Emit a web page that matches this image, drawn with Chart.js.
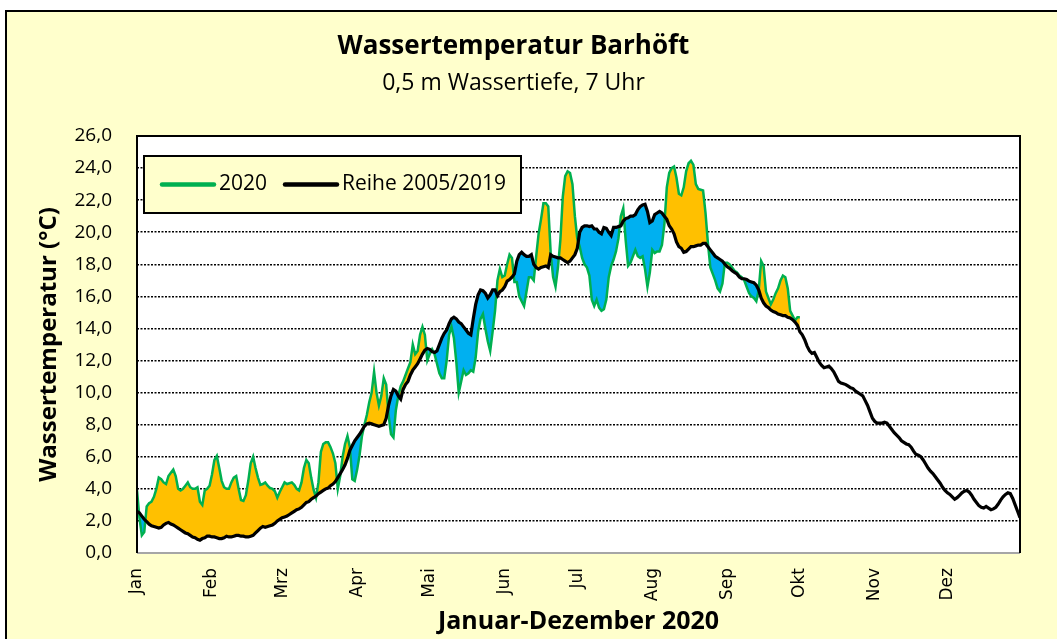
<!DOCTYPE html>
<html>
<head>
<meta charset="utf-8">
<title>Wassertemperatur Barhöft</title>
<script src="https://cdn.jsdelivr.net/npm/chart.js@4.4.0/dist/chart.umd.min.js"></script>
<style>
  html, body { margin: 0; padding: 0; background: #fff; overflow: hidden; }
  #frame { position: absolute; left: 5px; top: 10px; width: 1060px; height: 640px; background: #FFFFCC; border: 2px solid #000; }
  #wrap { position: absolute; left: 0; top: 0; width: 1050px; height: 627px; }
</style>
</head>
<body>
<div id="frame"><div id="wrap"><canvas id="myChart"></canvas></div></div>
<script>
// month ticks (day of year where each month starts)
const monthStarts = [0, 31, 60, 91, 121, 152, 182, 213, 244, 274, 305, 335];
const monthNames = ['Jan', 'Feb', 'Mrz', 'Apr', 'Mai', 'Jun', 'Jul', 'Aug', 'Sep', 'Okt', 'Nov', 'Dez'];

// 2020 daily values (7 Uhr), 1 Jan .. 1 Okt
const temp2020 = [
  3.9, 2.2, 1.1, 1.3, 2.9, 3.1, 3.2, 3.5, 4.0, 4.7,
  4.6, 4.4, 4.3, 4.8, 5.0, 5.2, 4.8, 4.0, 3.9, 4.0,
  4.2, 4.4, 4.1, 4.0, 4.0, 4.1, 3.2, 3.0, 3.9, 4.0,
  4.2, 4.9, 5.8, 6.05, 5.3, 4.5, 4.1, 4.0, 4.0, 4.4,
  4.7, 4.8, 4.0, 3.3, 3.25, 3.6, 4.5, 5.6, 6.0, 5.3,
  4.7, 4.25, 4.3, 4.4, 4.2, 4.05, 4.0, 3.85, 3.45, 3.8,
  4.1, 4.4, 4.3, 4.35, 4.4, 4.25, 4.0, 3.9, 4.4, 5.3,
  5.8, 5.6, 4.7, 3.95, 3.45, 4.4, 6.3, 6.8, 6.9, 6.9,
  6.6, 6.2, 5.6, 4.0, 4.8, 6.0, 6.8, 7.3, 6.6, 4.6,
  4.5, 5.2, 6.1, 7.3, 8.0, 8.6, 9.4, 10.0, 11.3, 10.0,
  9.2, 9.8, 10.9, 10.5, 8.6, 7.4, 7.2, 8.9, 9.8, 10.4,
  10.7, 11.1, 11.5, 11.9, 13.0, 12.4, 12.6, 13.6, 14.1, 13.6,
  12.0, 12.4, 12.7, 12.4, 11.8, 11.2, 10.9, 10.9, 12.0, 13.6,
  14.1, 13.4, 11.9, 10.0, 10.7, 11.4, 11.1, 11.2, 11.4, 11.3,
  12.2, 13.8, 14.6, 14.9, 14.0, 13.2, 12.6, 13.8, 15.1, 17.0,
  17.7, 17.2, 17.3, 18.0, 18.6, 18.4, 16.9, 16.9, 16.0, 15.7,
  15.4, 16.3, 17.2, 17.2, 17.0, 18.5, 19.9, 20.8, 21.8, 21.8,
  21.6, 18.7, 17.2, 16.6, 17.8, 19.5, 22.2, 23.5, 23.8, 23.7,
  23.0, 21.0, 19.6, 19.1, 18.4, 18.0, 17.8, 17.3, 15.8, 15.4,
  15.8, 15.3, 15.1, 15.2, 15.8, 17.2, 17.9, 18.3, 18.8, 19.6,
  21.0, 21.5, 19.5, 17.9, 18.1, 18.5, 18.9, 18.5, 18.4, 18.5,
  17.7, 16.6, 17.5, 18.9, 18.7, 18.8, 18.8, 19.2, 20.5, 22.8,
  23.7, 24.0, 24.1, 23.4, 22.4, 22.3, 22.8, 23.8, 24.3, 24.45,
  24.2, 23.0, 22.7, 22.65, 22.6, 21.2, 19.3, 17.8, 17.4, 17.0,
  16.5, 16.3, 16.8, 18.1, 18.1, 18.0, 17.8, 17.6, 17.5, 17.3,
  17.2, 17.0, 16.6, 16.2, 16.0, 15.9, 15.7, 16.4, 18.2, 17.9,
  16.3, 15.9, 15.5, 15.8, 16.2, 16.5, 17.0, 17.3, 17.2, 16.5,
  15.1, 14.8, 14.5, 14.7, 14.7
];

// long-term series 2005/2019, daily
const tempRef = [
  2.6, 2.5, 2.3, 2.1, 1.95, 1.8, 1.7, 1.65, 1.6, 1.55,
  1.6, 1.75, 1.85, 1.9, 1.8, 1.75, 1.65, 1.55, 1.45, 1.35,
  1.25, 1.2, 1.1, 1.0, 0.95, 0.85, 0.8, 0.9, 0.95, 1.05,
  1.05, 1.0, 1.0, 0.95, 0.9, 0.9, 0.95, 1.05, 1.0, 1.0,
  1.05, 1.1, 1.1, 1.05, 1.05, 1.0, 1.0, 1.05, 1.1, 1.25,
  1.4, 1.55, 1.65, 1.6, 1.65, 1.7, 1.75, 1.85, 2.0, 2.1,
  2.2, 2.25, 2.3, 2.4, 2.5, 2.6, 2.7, 2.75, 2.85, 3.0,
  3.15, 3.2, 3.35, 3.45, 3.55, 3.7, 3.8, 3.9, 4.0, 4.05,
  4.2, 4.3, 4.45, 4.7, 4.95, 5.2, 5.5, 5.9, 6.4, 6.7,
  7.0, 7.2, 7.4, 7.65, 7.9, 8.05, 8.1, 8.05, 8.0, 7.95,
  7.9, 7.95, 8.0, 8.4, 9.2, 9.8, 10.2, 10.1, 9.8, 9.6,
  10.2, 10.5, 10.7, 11.1, 11.4, 11.6, 11.8, 12.1, 12.4, 12.65,
  12.75, 12.7, 12.55, 12.5, 12.6, 13.0, 13.4, 13.7, 13.9, 14.3,
  14.6, 14.7, 14.6, 14.4, 14.3, 14.1, 13.9, 13.7, 13.6, 14.6,
  15.5, 16.1, 16.4, 16.35, 16.2, 15.9, 16.1, 16.4, 16.4, 16.05,
  16.3, 16.4, 16.6, 16.95, 17.05, 17.2, 17.4, 18.2, 18.6, 18.75,
  18.6, 18.5, 18.5, 18.6, 18.0, 17.8, 17.7, 17.8, 17.85, 17.9,
  17.8, 18.6, 18.5, 18.45, 18.4, 18.4, 18.3, 18.2, 18.1, 18.2,
  18.4, 18.6, 19.0, 20.0, 20.3, 20.4, 20.4, 20.35, 20.4, 20.2,
  20.2, 20.0, 19.9, 20.3, 20.25, 20.0, 19.8, 20.3, 20.3, 20.35,
  20.4, 20.7, 20.85, 20.9, 21.0, 21.0, 21.1, 21.4, 21.6, 21.7,
  21.75, 21.3, 20.6, 20.7, 21.1, 21.2, 21.3, 21.2, 21.0, 20.8,
  20.4, 20.2, 19.9, 19.4, 19.1, 19.0, 18.75, 18.8, 18.95, 19.1,
  19.1, 19.15, 19.2, 19.2, 19.3, 19.3, 19.1, 18.9, 18.7, 18.5,
  18.4, 18.3, 18.2, 18.0, 17.85, 17.75, 17.6, 17.5, 17.4, 17.2,
  17.1, 17.1, 17.05, 16.95, 16.9, 16.85, 16.7, 16.4, 15.9, 15.6,
  15.4, 15.3, 15.15, 15.05, 15.0, 14.9, 14.85, 14.8, 14.8, 14.7,
  14.65, 14.55, 14.4, 14.2, 13.8, 13.6, 13.3, 12.9, 12.6, 12.45,
  12.5, 12.2, 11.9, 11.7, 11.55, 11.6, 11.65, 11.5, 11.3, 11.0,
  10.7, 10.6, 10.55, 10.5, 10.4, 10.3, 10.25, 10.1, 10.0, 9.9,
  9.8, 9.5, 9.2, 8.8, 8.4, 8.2, 8.1, 8.1, 8.1, 8.15,
  8.1, 7.9, 7.7, 7.5, 7.35, 7.2, 7.0, 6.9, 6.8, 6.75,
  6.6, 6.35, 6.15, 6.1, 6.0, 5.8, 5.55, 5.3, 5.1, 4.95,
  4.75, 4.55, 4.35, 4.1, 3.9, 3.75, 3.65, 3.5, 3.35, 3.45,
  3.6, 3.75, 3.85, 3.9, 3.8, 3.6, 3.35, 3.15, 2.95, 2.85,
  2.8, 2.9, 2.8, 2.7, 2.75, 2.85, 3.05, 3.3, 3.5, 3.65,
  3.75, 3.7, 3.4, 3.0, 2.6, 2.2
];

// y axis ticks
const yTicks = [0, 2, 4, 6, 8, 10, 12, 14, 16, 18, 20, 22, 24, 26];

const fontMain = "'Open Sans', sans-serif";

// white plot area
const plotBackground = {
  id: 'plotBackground',
  beforeDraw(chart) {
    const { ctx, chartArea: a } = chart;
    ctx.save();
    ctx.fillStyle = '#fff';
    ctx.fillRect(a.left, a.top, a.right - a.left, a.bottom - a.top);
    ctx.restore();
  }
};

// frame around the plot area + legend box inside it
const plotFrameAndLegend = {
  id: 'plotFrameAndLegend',
  afterDraw(chart) {
    const { ctx, chartArea: a } = chart;
    ctx.save();
    ctx.lineWidth = 2;
    ctx.strokeStyle = '#A6A6A6';
    ctx.beginPath();
    ctx.moveTo(a.left, a.bottom);
    ctx.lineTo(a.right, a.bottom);
    ctx.stroke();
    ctx.strokeStyle = '#000';
    ctx.beginPath();
    ctx.moveTo(a.left, a.bottom);
    ctx.lineTo(a.left, a.top);
    ctx.lineTo(a.right, a.top);
    ctx.lineTo(a.right, a.bottom);
    ctx.stroke();

    // legend
    const x = a.left + 7, y = a.top + 20, w = 377, h = 57;
    ctx.fillStyle = '#FFFFCC';
    ctx.fillRect(x, y, w, h);
    ctx.lineWidth = 2;
    ctx.strokeStyle = '#000';
    ctx.strokeRect(x, y, w, h);

    const items = [
      { label: '2020', color: '#00B050', x0: x + 18 },
      { label: 'Reihe 2005/2019', color: '#000', x0: x + 141 }
    ];
    const cy = y + h / 2;
    ctx.font = '21px ' + fontMain;
    ctx.textBaseline = 'middle';
    ctx.textAlign = 'left';
    items.forEach(item => {
      ctx.strokeStyle = item.color;
      ctx.lineWidth = 4.5;
      ctx.lineCap = 'round';
      ctx.beginPath();
      ctx.moveTo(item.x0, cy);
      ctx.lineTo(item.x0 + 52, cy);
      ctx.stroke();
      ctx.fillStyle = '#000';
      ctx.fillText(item.label, item.x0 + 57, cy);
    });
    ctx.restore();
  }
};

const myChart = document.getElementById('myChart');

let lineChart = new Chart(myChart, {
  type: 'line',
  data: {
    datasets: [
      {
        label: '2020',
        data: temp2020.map((v, i) => ({ x: i, y: v })),
        borderColor: '#00B050',
        borderWidth: 2.5,
        pointRadius: 0,
        tension: 0,
        order: 2,
        fill: { target: 1, above: '#FFC000', below: '#00B0F0' }
      },
      {
        label: 'Reihe 2005/2019',
        data: tempRef.map((v, i) => ({ x: i, y: v })),
        borderColor: '#000',
        borderWidth: 3.2,
        pointRadius: 0,
        tension: 0,
        order: 1,
        fill: false
      }
    ]
  },
  options: {
    responsive: true,
    maintainAspectRatio: false,
    devicePixelRatio: 1,
    animation: false,
    events: [],
    layout: { padding: { left: 0, right: 37, top: 0, bottom: 0 } },
    plugins: {
      legend: { display: false },
      tooltip: { enabled: false },
      filler: { drawTime: 'beforeDatasetsDraw' },
      title: {
        display: true,
        text: 'Wassertemperatur Barhöft',
        color: '#000',
        font: { family: fontMain, size: 26, weight: 'bold', lineHeight: 1.2 },
        padding: { top: 19.4, bottom: 0 }
      },
      subtitle: {
        display: true,
        text: '0,5 m Wassertiefe, 7 Uhr',
        color: '#000',
        font: { family: fontMain, size: 23, lineHeight: 1.2 },
        padding: { top: 6.6, bottom: 39.2 }
      }
    },
    scales: {
      x: {
        type: 'linear',
        min: 0,
        max: 365,
        afterBuildTicks: scale => {
          scale.ticks = monthStarts.map(v => ({ value: v }));
        },
        afterFit: scale => { scale.height = 86; },
        grid: { display: false, drawTicks: false },
        border: { display: false },
        ticks: {
          autoSkip: false,
          minRotation: 90,
          maxRotation: 90,
          padding: 15,
          color: '#000',
          font: { family: "'DejaVu Sans', sans-serif", size: 17 },
          callback: (value, index) => monthNames[index]
        },
        title: {
          display: true,
          text: 'Januar-Dezember 2020',
          color: '#000',
          font: { family: fontMain, size: 25, weight: 'bold', lineHeight: 1.2 },
          padding: { top: 0, bottom: 2 }
        }
      },
      y: {
        min: 0,
        max: 26,
        afterBuildTicks: scale => {
          scale.ticks = yTicks.map(v => ({ value: v }));
        },
        afterFit: scale => { scale.width = 130; },
        grid: {
          drawTicks: false,
          lineWidth: 1.5,
          color: c => (c.tick.value === 0 || c.tick.value === 26) ? 'rgba(0,0,0,0)' : '#000'
        },
        border: { display: false, dash: [2, 1.5] },
        ticks: {
          padding: 25,
          color: '#000',
          font: { family: fontMain, size: 19 },
          callback: v => v.toFixed(1).replace('.', ',')
        },
        title: {
          display: true,
          text: 'Wassertemperatur (°C)',
          color: '#000',
          font: { family: fontMain, size: 24, weight: 'bold', lineHeight: 1.2 },
          padding: { top: 28, bottom: 0 }
        }
      }
    }
  },
  plugins: [plotBackground, plotFrameAndLegend]
});
</script>
</body>
</html>
